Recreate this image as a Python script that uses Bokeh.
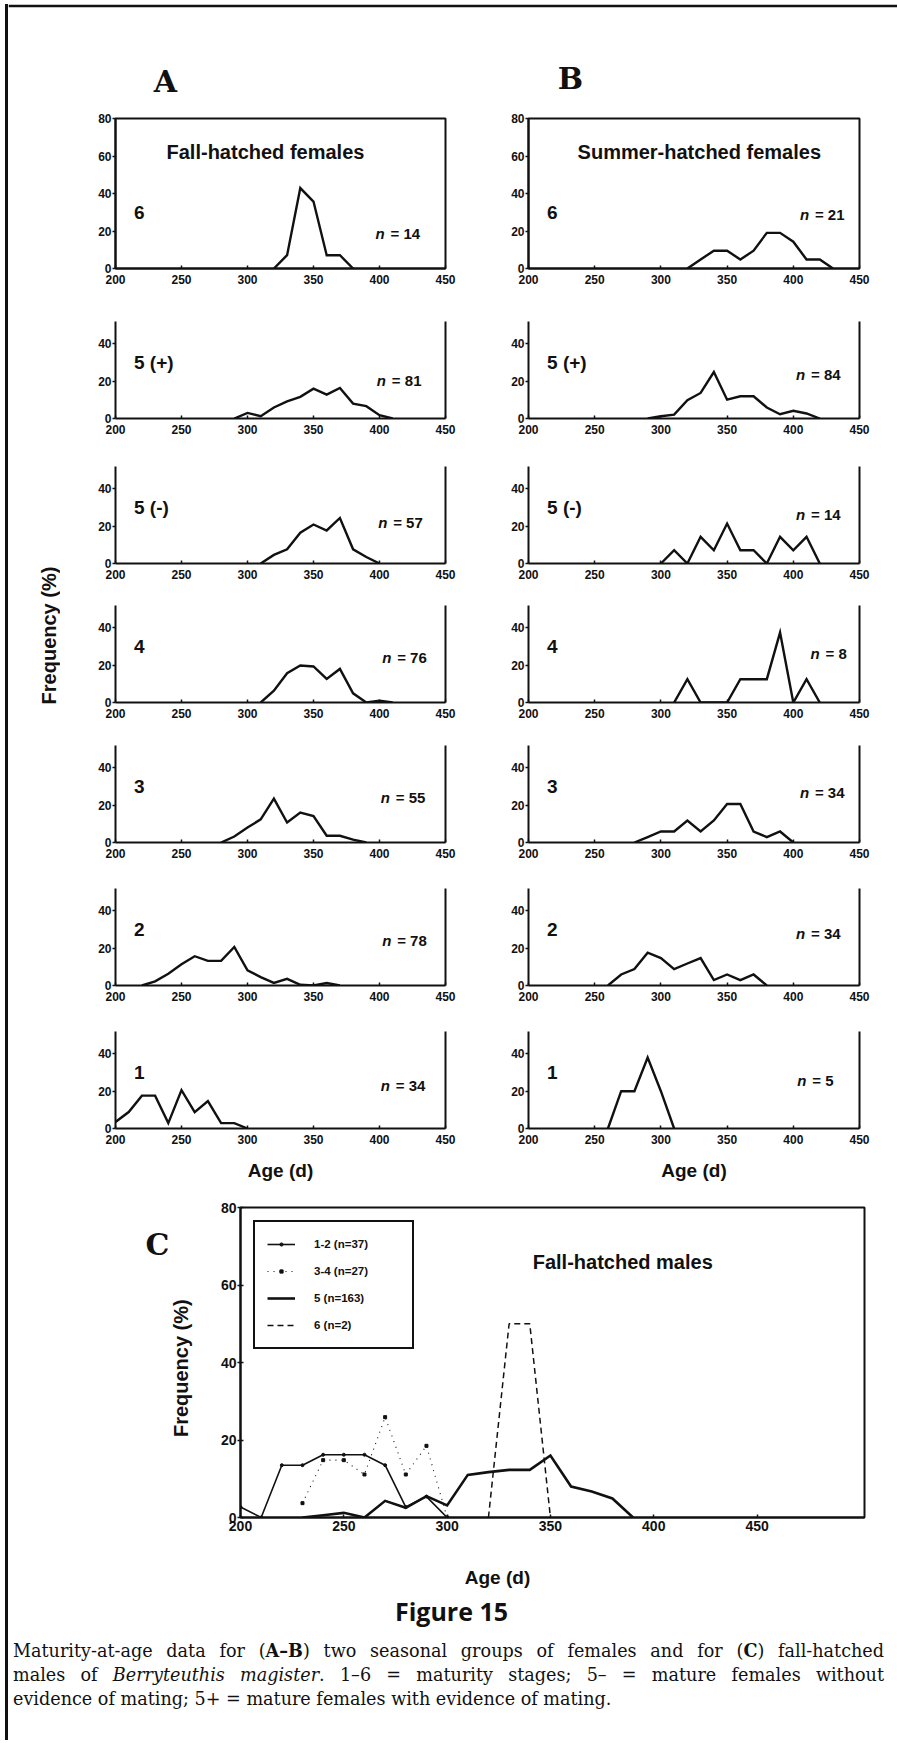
import math

from bokeh.core.properties import value
from bokeh.embed import file_html
from bokeh.layouts import column, row
from bokeh.models import Div, FixedTicker, Legend, LegendItem, LinearAxis, Range1d
from bokeh.plotting import figure
from bokeh.resources import INLINE

INK = "#111111"
SANS = "Liberation Sans"
SERIF = "DejaVu Serif"

# ---------------- data: % of animals by age (d), 10-d bins ----------------
# A: fall-hatched females, one series per maturity stage
a6_age = [320, 330, 340, 350, 360, 370, 380]
a6_pct = [0, 7.1, 42.9, 35.7, 7.1, 7.1, 0]
a5p_age = [290, 300, 310, 320, 330, 340, 350, 360, 370, 380, 390, 400, 410]
a5p_pct = [0, 3.0, 1.2, 5.9, 9.2, 11.6, 16.0, 12.8, 16.4, 8.0, 6.6, 1.8, 0]
a5m_age = [310, 320, 330, 340, 350, 360, 370, 380, 390, 400]
a5m_pct = [0, 4.6, 7.6, 16.5, 20.9, 17.7, 24.4, 7.6, 3.5, 0]
a4_age = [310, 320, 330, 340, 350, 360, 370, 380, 390, 400, 410]
a4_pct = [0, 6.3, 15.7, 19.8, 19.3, 12.6, 18.0, 4.9, 0, 0.9, 0]
a3_age = [280, 290, 300, 310, 320, 330, 340, 350, 360, 370, 380, 390]
a3_pct = [0, 3.2, 8.0, 12.4, 23.5, 10.7, 16.0, 14.2, 3.6, 3.6, 1.5, 0]
a2_age = [220, 230, 240, 250, 260, 270, 280, 290, 300, 310, 320, 330, 340, 350, 360, 370]
a2_pct = [0, 2.2, 6.3, 11.4, 15.7, 13.2, 13.2, 20.7, 8.1, 4.5, 1.4, 3.6, 0.4, 0, 1.3, 0]
a1_age = [200, 210, 220, 230, 240, 250, 260, 270, 280, 290, 300]
a1_pct = [3.5, 8.8, 17.6, 17.6, 2.9, 20.6, 8.8, 14.7, 2.9, 2.9, 0]

# B: summer-hatched females
b6_age = [320, 330, 340, 350, 360, 370, 380, 390, 400, 410, 420, 430]
b6_pct = [0, 4.8, 9.5, 9.5, 4.8, 9.5, 19.0, 19.0, 14.3, 4.8, 4.8, 0]
b5p_age = [290, 300, 310, 320, 330, 340, 350, 360, 370, 380, 390, 400, 410, 420]
b5p_pct = [0, 1.2, 2.1, 9.8, 13.7, 24.9, 10.1, 11.9, 11.9, 5.9, 2.3, 4.1, 2.7, 0]
b5m_age = [300, 310, 320, 330, 340, 350, 360, 370, 380, 390, 400, 410, 420]
b5m_pct = [0, 7.1, 0, 14.3, 7.1, 21.4, 7.1, 7.1, 0, 14.3, 7.1, 14.3, 0]
b4_age = [310, 320, 330, 340, 350, 360, 370, 380, 390, 400, 410, 420]
b4_pct = [0, 12.5, 0, 0, 0, 12.5, 12.5, 12.5, 37.5, 0, 12.5, 0]
b3_age = [280, 290, 300, 310, 320, 330, 340, 350, 360, 370, 380, 390, 400]
b3_pct = [0, 2.9, 5.9, 5.9, 11.8, 5.9, 11.8, 20.6, 20.6, 5.9, 2.9, 5.9, 0]
b2_age = [260, 270, 280, 290, 300, 310, 320, 330, 340, 350, 360, 370, 380]
b2_pct = [0, 5.9, 8.8, 17.6, 14.7, 8.8, 11.8, 14.7, 2.9, 5.9, 2.9, 5.9, 0]
b1_age = [260, 270, 280, 290, 300, 310]
b1_pct = [0, 20, 20, 38, 20, 0]

stages = ["6", "5 (+)", "5 (-)", "4", "3", "2", "1"]
n_fall = [14, 81, 57, 76, 55, 78, 34]
n_summer = [21, 84, 14, 8, 34, 34, 5]

# C: fall-hatched males, grouped stages
c12_age = [200, 210, 220, 230, 240, 250, 260, 270, 280, 290, 300]
c12_pct = [2.7, 0, 13.5, 13.5, 16.2, 16.2, 16.2, 13.5, 2.7, 5.4, 0]
c34_age = [230, 240, 250, 260, 270, 280, 290, 300]
c34_pct = [3.7, 14.8, 14.8, 11.1, 25.9, 11.1, 18.5, 0]
c5_age = [230, 240, 250, 260, 270, 280, 290, 300, 310, 320, 330, 340, 350, 360, 370, 380, 390]
c5_pct = [0, 0.6, 1.2, 0, 4.3, 2.5, 5.5, 3.1, 11.0, 11.7, 12.3, 12.3, 16.0, 8.0, 6.7, 4.9, 0]
c6_age = [320, 330, 340, 350]
c6_pct = [0, 50, 50, 0]
c_labels = ["1-2 (n=37)", "3-4 (n=27)", "5 (n=163)", "6 (n=2)"]

age_ticks = [200, 250, 300, 350, 400, 450]
freq_ticks_top = [0, 20, 40, 60, 80]
freq_ticks = [0, 20, 40]

fall_series = [(a6_age, a6_pct), (a5p_age, a5p_pct), (a5m_age, a5m_pct), (a4_age, a4_pct),
               (a3_age, a3_pct), (a2_age, a2_pct), (a1_age, a1_pct)]
summer_series = [(b6_age, b6_pct), (b5p_age, b5p_pct), (b5m_age, b5m_pct), (b4_age, b4_pct),
                 (b3_age, b3_pct), (b2_age, b2_pct), (b1_age, b1_pct)]

# ---------------- layout (pixels) ----------------
PAGE_W = 897
PAGE_H = 1740
RULE_W = 8                     # strip holding the page rule on the left
INNER_W = PAGE_W - RULE_W
HEAD_H = 100
ROW_TOP = [18, 21, 21, 20, 20, 22, 23]
ROW_FRAME = [150, 97, 97, 97, 97, 97, 97]
ROW_BOT = [32, 27, 22, 23, 24, 23, 62]
YMAX = [80, 52, 52, 52, 52, 52, 52]
LAB_W = 52
A_LEFT, A_FRAME, A_RIGHT = 55, 330, 40
B_LEFT, B_FRAME, B_RIGHT = 43, 331, 38
STAGE_POS = (214, 30)
N_POS_A = [(397, 18.5), (398, 20.4), (399, 22), (402, 23.9), (401, 24), (402, 24), (401, 23)]
N_POS_B = [(405, 28.7), (402, 23.6), (402, 26.5), (413, 26.5), (405, 26.8), (402, 27.9), (403, 25.7)]
ROWS_H = sum(ROW_TOP) + sum(ROW_FRAME) + sum(ROW_BOT)
C_ROW_H = 355
C_LEFT_W = 192
AGE_ROW_H = 45
CAP_H = PAGE_H - HEAD_H - ROWS_H - C_ROW_H - AGE_ROW_H


def txt(p, x, y, s, size, style="bold", font=SANS, align="left", baseline="middle", **kw):
    p.text(x=[x], y=[y], text=[s], text_font=value(font), text_font_style=style,
           text_font_size=size, text_align=align, text_baseline=baseline, text_color=INK, **kw)


def sheet(x0, w, y0, h):
    """Blank strip addressed in page pixel coordinates (y grows downward)."""
    p = figure(width=w, height=h, x_range=Range1d(x0, x0 + w), y_range=Range1d(y0 + h, y0),
               x_axis_type=None, y_axis_type=None, min_border=0,
               output_backend="svg", toolbar_location=None)
    p.outline_line_color = None
    p.background_fill_color = "white"
    p.border_fill_color = "white"
    return p


def style_axis(ax, size):
    ax.axis_line_color = INK
    ax.axis_line_width = 2
    ax.major_tick_line_color = INK
    ax.major_tick_line_width = 1.5
    ax.minor_tick_line_color = None
    ax.major_label_text_font = SANS
    ax.major_label_text_font_size = size
    ax.major_label_text_font_style = "bold"
    ax.major_label_text_color = INK


def stage_panel(i, series, n, n_pos, left, frame_w, right, heading=None, heading_x=None):
    top, fh, bot, ymax = ROW_TOP[i], ROW_FRAME[i], ROW_BOT[i], YMAX[i]
    p = figure(width=left + frame_w + right, height=top + fh + bot,
               x_range=Range1d(200, 450), y_range=Range1d(0, ymax),
               min_border_left=left, min_border_right=right,
               min_border_top=top, min_border_bottom=bot,
               output_backend="svg", toolbar_location=None)
    p.grid.visible = False
    p.background_fill_color = "white"
    p.border_fill_color = "white"
    boxed = i == 0
    p.outline_line_color = INK if boxed else None
    p.outline_line_width = 2
    xa, ya = p.below[0], p.left[0]
    xa.ticker = FixedTicker(ticks=age_ticks)
    ya.ticker = FixedTicker(ticks=freq_ticks_top if boxed else freq_ticks)
    style_axis(xa, "12px")
    style_axis(ya, "12px")
    xa.major_tick_in, xa.major_tick_out, xa.major_label_standoff = 3, 0, 6
    ya.major_tick_in, ya.major_tick_out, ya.major_label_standoff = 0, 3, 1
    if not boxed:
        edge = LinearAxis(ticker=FixedTicker(ticks=[]), axis_line_color=INK, axis_line_width=2,
                          major_tick_line_color=None, minor_tick_line_color=None)
        p.add_layout(edge, "right")
    if i == len(ROW_TOP) - 1:
        xa.axis_label = "Age (d)"
        xa.axis_label_text_font = SANS
        xa.axis_label_text_font_size = "19px"
        xa.axis_label_text_font_style = "bold"
        xa.axis_label_text_color = INK
        xa.axis_label_standoff = 13
    ages, pct = series
    p.line(ages, pct, line_width=2.4, line_color=INK, line_join="miter")
    txt(p, STAGE_POS[0], STAGE_POS[1], stages[i], "19px")
    txt(p, n_pos[0], n_pos[1], "n", "15px", style="bold italic")
    txt(p, n_pos[0], n_pos[1], f"= {n}", "15px", x_offset=15)
    if heading:
        txt(p, heading_x, 62, heading, "20px", align="center")
    return p


# ---------------- page rule (left edge) ----------------
rule = Div(width=RULE_W, height=PAGE_H, margin=0, text=(
    f'<div style="position:relative;width:{RULE_W}px;height:{PAGE_H}px;background:white;">'
    f'<div style="position:absolute;left:5px;top:4px;width:3px;height:{PAGE_H - 4}px;'
    'background:#111;"></div></div>'))

# ---------------- header with panel letters ----------------
header = sheet(RULE_W, INNER_W, 0, HEAD_H)
header.line([RULE_W, PAGE_W], [5.5, 5.5], line_width=2.5, line_color=INK)
txt(header, 165, 81, "A", "30px", font=SERIF, align="center")
txt(header, 570, 78, "B", "30px", font=SERIF, align="center")

# ---------------- A and B columns ----------------
ylab = sheet(RULE_W, LAB_W, HEAD_H, ROWS_H)
txt(ylab, 48, 635, "Frequency (%)", "20px", align="center", angle=math.pi / 2)

col_a, col_b = [], []
for i in range(len(stages)):
    col_a.append(stage_panel(i, fall_series[i], n_fall[i], N_POS_A[i], A_LEFT, A_FRAME, A_RIGHT,
                             heading="Fall-hatched females" if i == 0 else None, heading_x=313.6))
    col_b.append(stage_panel(i, summer_series[i], n_summer[i], N_POS_B[i], B_LEFT, B_FRAME, B_RIGHT,
                             heading="Summer-hatched females" if i == 0 else None, heading_x=329))

# ---------------- C: fall-hatched males ----------------
c_top = HEAD_H + ROWS_H
c_left = sheet(RULE_W, C_LEFT_W, c_top, C_ROW_H)
txt(c_left, 157, 1232, "C", "30px", font=SERIF, align="center")
txt(c_left, 180, 1374, "Frequency (%)", "20px", align="center", angle=math.pi / 2)

pc = figure(width=INNER_W - C_LEFT_W, height=C_ROW_H,
            x_range=Range1d(200, 502), y_range=Range1d(0, 80),
            min_border_left=40, min_border_right=33, min_border_top=17, min_border_bottom=28,
            output_backend="svg", toolbar_location=None)
pc.grid.visible = False
pc.background_fill_color = "white"
pc.border_fill_color = "white"
pc.outline_line_color = INK
pc.outline_line_width = 2
cx, cy = pc.below[0], pc.left[0]
cx.ticker = FixedTicker(ticks=age_ticks)
cy.ticker = FixedTicker(ticks=freq_ticks_top)
style_axis(cx, "14px")
style_axis(cy, "14px")
cx.major_tick_in, cx.major_tick_out, cx.major_label_standoff = 3, 0, 3
cy.major_tick_in, cy.major_tick_out, cy.major_label_standoff = 3, 3, 1

r12 = pc.line(c12_age, c12_pct, line_width=1.6, line_color=INK)
r12m = pc.scatter(c12_age, c12_pct, marker="circle", size=3, color=INK)
r34 = pc.line(c34_age, c34_pct, line_width=1.1, line_dash="1 5", line_color=INK)
r34m = pc.scatter(c34_age, c34_pct, marker="square", size=3, color=INK)
r5 = pc.line(c5_age, c5_pct, line_width=2.6, line_color=INK, line_join="miter")
r6 = pc.line(c6_age, c6_pct, line_width=1.5, line_dash="6 4", line_color=INK)
txt(pc, 385, 66, "Fall-hatched males", "20px", align="center")

legend = Legend(items=[LegendItem(label=c_labels[0], renderers=[r12, r12m]),
                       LegendItem(label=c_labels[1], renderers=[r34, r34m]),
                       LegendItem(label=c_labels[2], renderers=[r5]),
                       LegendItem(label=c_labels[3], renderers=[r6])],
                location="top_left")
legend.margin = 13
legend.padding = 12
legend.spacing = 7
legend.glyph_width = 28
legend.glyph_height = 8
legend.label_height = 20
legend.label_width = 86
legend.label_standoff = 19
legend.label_text_font = SANS
legend.label_text_font_size = "11.5px"
legend.label_text_font_style = "bold"
legend.label_text_color = INK
legend.border_line_color = INK
legend.border_line_alpha = 1
legend.border_line_width = 2
legend.background_fill_color = "white"
legend.background_fill_alpha = 1
pc.add_layout(legend, "center")

age_row = sheet(RULE_W, INNER_W, c_top + C_ROW_H, AGE_ROW_H)
txt(age_row, 497, 1577, "Age (d)", "19px", align="center")

# ---------------- caption ----------------
caption_html = (
    f'<div style="position:relative;width:{INNER_W}px;height:{CAP_H}px;background:white;color:#111;">'
    f'<div style="position:absolute;left:0;top:6px;width:{INNER_W - 2}px;text-align:center;'
    "font-family:'Open Sans';font-weight:700;font-size:25px;line-height:30px;\">Figure 15</div>"
    '<div style="position:absolute;left:5px;top:49px;width:871px;'
    "font-family:'DejaVu Serif';font-size:17.6px;line-height:24px;\">"
    '<div style="text-align:justify;text-align-last:justify;white-space:nowrap;">'
    'Maturity-at-age data for (<b>A&ndash;B</b>) two seasonal groups of females and for (<b>C</b>) fall-hatched</div>'
    '<div style="text-align:justify;text-align-last:justify;white-space:nowrap;">'
    'males of <i>Berryteuthis magister</i>. 1&ndash;6 = maturity stages; 5&ndash; = mature females without</div>'
    '<div style="white-space:nowrap;">evidence of mating; 5+ = mature females with evidence of mating.</div>'
    '</div></div>'
)
caption = Div(text=caption_html, width=INNER_W, height=CAP_H, margin=0)

page = row(
    rule,
    column(
        header,
        row(ylab, column(*col_a), column(*col_b)),
        row(c_left, pc),
        age_row,
        caption,
    ),
)

open("out.html", "w").write(file_html(page, INLINE))
